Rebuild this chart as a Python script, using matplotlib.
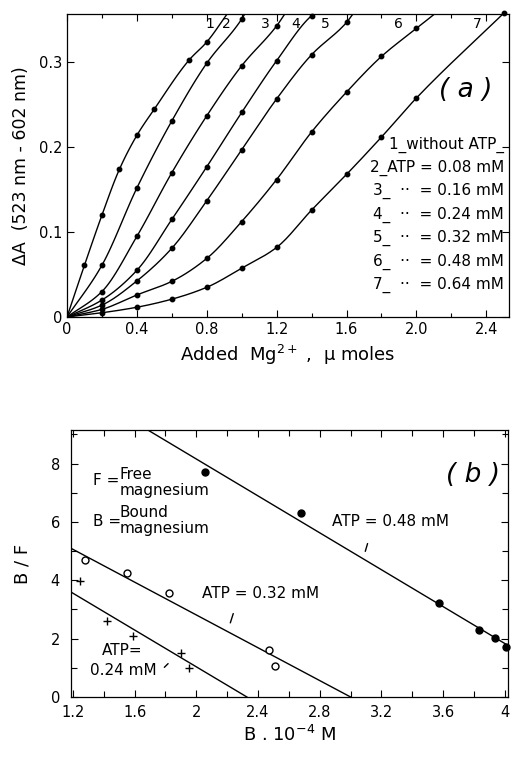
import numpy as np
import matplotlib
matplotlib.use("Agg")
import matplotlib.pyplot as plt

plt.rcParams['font.family'] = ['Liberation Sans Narrow', 'DejaVu Sans']
plt.rcParams['mathtext.fontset'] = 'dejavusans'

# ---------------- Panel (a) data ----------------
mg_c1 = [0.0, 0.1, 0.2, 0.3, 0.4, 0.5, 0.7, 0.8]
dA_c1 = [0.0, 0.061, 0.120, 0.174, 0.214, 0.245, 0.303, 0.324]
mg_c2 = [0.0, 0.2, 0.4, 0.6, 0.8, 1.0]
dA_c2 = [0.0, 0.061, 0.152, 0.231, 0.299, 0.351]
mg_c3 = [0.0, 0.2, 0.4, 0.6, 0.8, 1.0, 1.2]
dA_c3 = [0.0, 0.030, 0.095, 0.170, 0.237, 0.296, 0.343]
mg_c4 = [0.0, 0.2, 0.4, 0.6, 0.8, 1.0, 1.2, 1.4]
dA_c4 = [0.0, 0.020, 0.055, 0.115, 0.177, 0.241, 0.302, 0.355]
mg_c5 = [0.0, 0.2, 0.4, 0.6, 0.8, 1.0, 1.2, 1.4, 1.6]
dA_c5 = [0.0, 0.014, 0.0425, 0.081, 0.137, 0.197, 0.257, 0.309, 0.347]
mg_c6 = [0.0, 0.2, 0.4, 0.6, 0.8, 1.0, 1.2, 1.4, 1.6, 1.8, 2.0]
dA_c6 = [0.0, 0.009, 0.026, 0.042, 0.069, 0.1125, 0.162, 0.218, 0.265, 0.307, 0.340]
mg_c7 = [0.0, 0.2, 0.4, 0.6, 0.8, 1.0, 1.2, 1.4, 1.6, 1.8, 2.0, 2.5]
dA_c7 = [0.0, 0.005, 0.0115, 0.021, 0.035, 0.0575, 0.082, 0.126, 0.168, 0.212, 0.258, 0.358]
# where each drawn curve leaves the top of the frame
curve_end_x = [0.92, 1.02, 1.25, 1.42, 1.64, 2.11, 2.5]
curve_end_y = [0.358, 0.358, 0.358, 0.358, 0.358, 0.358, 0.358]
curve_labels = ['1', '2', '3', '4', '5', '6', '7']
curve_label_x = [0.815, 0.913, 1.133, 1.31, 1.48, 1.896, 2.35]
legend_a = ['1_without ATP_', '2_ATP = 0.08 mM', '3_  ··  = 0.16 mM', '4_  ··  = 0.24 mM',
            '5_  ··  = 0.32 mM', '6_  ··  = 0.48 mM', '7_  ··  = 0.64 mM']

# ---------------- Panel (b) data ----------------
b_048 = [2.057, 2.679, 3.572, 3.83, 3.934, 4.005]
bf_048 = [7.72, 6.32, 3.23, 2.29, 2.01, 1.70]
b_032 = [1.278, 1.549, 1.823, 2.468, 2.512]
bf_032 = [4.71, 4.24, 3.57, 1.61, 1.07]
b_024 = [1.245, 1.419, 1.592, 1.901, 1.955]
bf_024 = [3.97, 2.60, 2.09, 1.50, 0.98]
# fitted straight lines (endpoints)
fit048_x = [1.689, 4.016]
fit048_y = [9.14, 1.78]
fit032_x = [1.19, 3.0]
fit032_y = [5.09, 0.0]
fit024_x = [1.19, 2.328]
fit024_y = [3.59, 0.0]


def smooth_path(xs, ys, n=15):
    """Monotone (Fritsch-Carlson) cubic drawn through the points (drawing only)."""
    x = np.asarray(xs, float)
    y = np.asarray(ys, float)
    h = np.diff(x)
    d = np.diff(y) / h
    m = np.zeros_like(x)
    m[0] = d[0]
    m[-1] = d[-1]
    for k in range(1, len(x) - 1):
        if d[k - 1] * d[k] <= 0:
            m[k] = 0.0
        else:
            w1 = 2 * h[k] + h[k - 1]
            w2 = h[k] + 2 * h[k - 1]
            m[k] = (w1 + w2) / (w1 / d[k - 1] + w2 / d[k])
    px, py = [], []
    for k in range(len(x) - 1):
        t = np.linspace(0, 1, n, endpoint=False)
        h00 = 2 * t ** 3 - 3 * t ** 2 + 1
        h10 = t ** 3 - 2 * t ** 2 + t
        h01 = -2 * t ** 3 + 3 * t ** 2
        h11 = t ** 3 - t ** 2
        px.append(x[k] + t * h[k])
        py.append(h00 * y[k] + h10 * h[k] * m[k] + h01 * y[k + 1] + h11 * h[k] * m[k + 1])
    px.append([x[-1]])
    py.append([y[-1]])
    return np.concatenate(px), np.concatenate(py)


W, H = 514, 762
fig = plt.figure(figsize=(W / 100, H / 100), dpi=100)

def frac(l, r, t, b):
    return [l / W, 1 - b / H, (r - l) / W, (b - t) / H]

ax = fig.add_axes(frac(67, 509, 14, 317))
mgs = [mg_c1, mg_c2, mg_c3, mg_c4, mg_c5, mg_c6, mg_c7]
dAs = [dA_c1, dA_c2, dA_c3, dA_c4, dA_c5, dA_c6, dA_c7]
for i, (xs, ys) in enumerate(zip(mgs, dAs)):
    lx = list(xs) + [curve_end_x[i]]
    ly = list(ys) + [curve_end_y[i]]
    if lx[-1] <= lx[-2] + 1e-6:
        lx, ly = lx[:-1], ly[:-1]
    sx, sy = smooth_path(lx, ly)
    ax.plot(sx, sy, color='black', lw=1.0, clip_on=True)
    ax.plot(xs[1:], ys[1:], 'o', color='black', ms=3.2, clip_on=False)
    ax.text(curve_label_x[i], 0.345, curve_labels[i], fontsize=10, ha='center', va='center')
ax.set_xlim(0, 2.53)
ax.set_ylim(0, 0.357)
ax.set_xticks([0, 0.4, 0.8, 1.2, 1.6, 2.0, 2.4])
ax.set_xticklabels(['0', '0.4', '0.8', '1.2', '1.6', '2.0', '2.4'])
ax.set_xticks(np.arange(0.2, 2.5, 0.4), minor=True)
ax.set_yticks([0, 0.1, 0.2, 0.3])
ax.set_yticklabels(['0', '0.1', '0.2', '0.3'])
ax.tick_params(which='both', direction='in', top=True, right=True, labelsize=10.5, width=0.8)
ax.tick_params(which='major', length=5)
ax.tick_params(which='minor', length=3)
ax.set_xlabel('Added  Mg$^{2+}$ ,  μ moles', fontsize=13, labelpad=4)
ax.set_ylabel('ΔA  (523 nm - 602 nm)', fontsize=12.5, labelpad=6)
ax.text(2.28, 0.268, '( a )', fontsize=19, style='italic', ha='center', va='center')
for k, s in enumerate(legend_a):
    ax.text(2.5, 0.203 - k * 0.0275, s, fontsize=11, ha='right', va='center')
for sp in ax.spines.values():
    sp.set_linewidth(0.9)

# ---------------- Panel (b) ----------------
bx = fig.add_axes(frac(71, 508, 430, 697))
bx.plot(fit048_x, fit048_y, color='black', lw=1.0)
bx.plot(fit032_x, fit032_y, color='black', lw=1.0)
bx.plot(fit024_x, fit024_y, color='black', lw=1.0)
bx.plot(b_048, bf_048, 'o', color='black', ms=5, clip_on=False)
bx.plot(b_032, bf_032, 'o', mfc='white', mec='black', ms=5, mew=1.0)
bx.plot(b_024, bf_024, '+', color='black', ms=6, mew=1.0)
bx.set_xlim(1.188, 4.02)
bx.set_ylim(0, 9.15)
bx.set_xticks([1.2, 1.6, 2.0, 2.4, 2.8, 3.2, 3.6, 4.0])
bx.set_xticklabels(['1.2', '1.6', '2', '2.4', '2.8', '3.2', '3.6', '4'])
bx.set_xticks(np.arange(1.4, 4.0, 0.4), minor=True)
bx.set_yticks([0, 2, 4, 6, 8])
bx.set_yticks([1, 3, 5, 7, 9], minor=True)
bx.tick_params(which='both', direction='in', top=True, right=True, labelsize=10.5, width=0.8)
bx.tick_params(axis='y', which='major', pad=8)
bx.tick_params(axis='x', which='major', pad=6)
bx.tick_params(which='major', length=5)
bx.tick_params(which='minor', length=4)
bx.set_xlabel('B . 10$^{-4}$ M', fontsize=13, labelpad=3)
bx.set_ylabel('B / F', fontsize=13, labelpad=14)
bx.text(1.33, 7.43, 'F =', fontsize=11, ha='left', va='center')
bx.text(1.505, 7.62, 'Free', fontsize=11, ha='left', va='center')
bx.text(1.505, 7.08, 'magnesium', fontsize=11, ha='left', va='center')
bx.text(1.33, 6.0, 'B =', fontsize=11, ha='left', va='center')
bx.text(1.505, 6.31, 'Bound', fontsize=11, ha='left', va='center')
bx.text(1.505, 5.77, 'magnesium', fontsize=11, ha='left', va='center')
bx.text(2.88, 6.0, 'ATP = 0.48 mM', fontsize=11, ha='left', va='center')
bx.annotate('', xy=(3.09, 4.9), xytext=(3.115, 5.35),
            arrowprops=dict(arrowstyle='-', color='black', lw=1.0))
bx.text(2.036, 3.55, 'ATP = 0.32 mM', fontsize=11, ha='left', va='center')
bx.annotate('', xy=(2.215, 2.45), xytext=(2.245, 2.95),
            arrowprops=dict(arrowstyle='-', color='black', lw=1.0))
bx.text(1.386, 1.61, 'ATP=', fontsize=11, ha='left', va='center')
bx.text(1.31, 0.92, '0.24 mM', fontsize=11, ha='left', va='center')
bx.annotate('', xy=(1.83, 1.21), xytext=(1.78, 0.95),
            arrowprops=dict(arrowstyle='-', color='black', lw=1.0))
bx.text(3.79, 7.6, '( b )', fontsize=19, style='italic', ha='center', va='center')
for sp in bx.spines.values():
    sp.set_linewidth(0.9)

fig.savefig('out.png', dpi=100)
